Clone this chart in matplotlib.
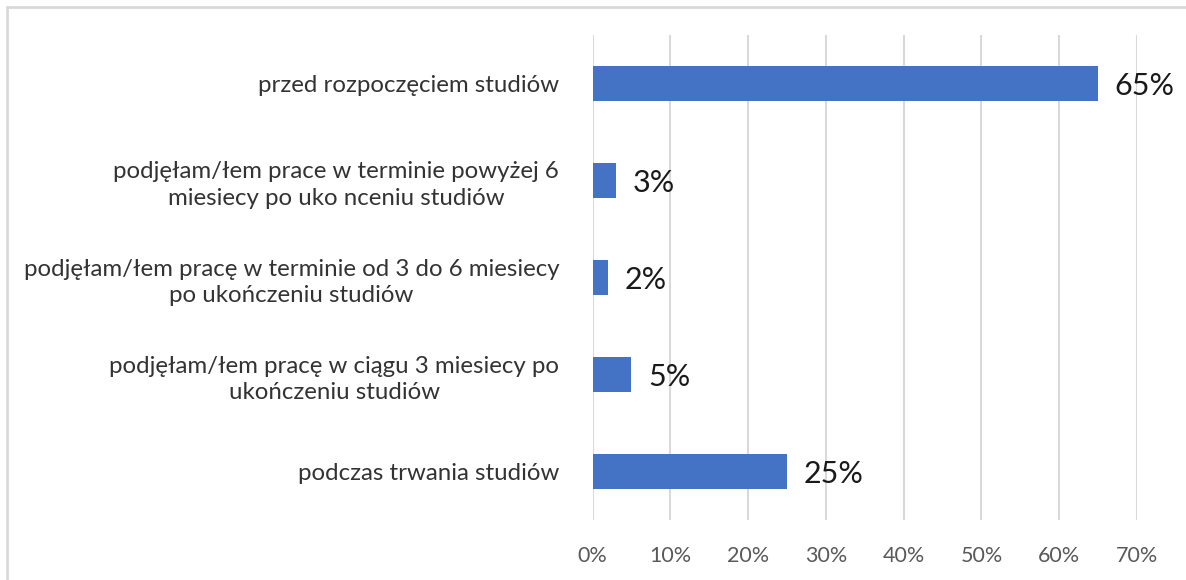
import matplotlib.pyplot as plt
from matplotlib.patches import Rectangle

# data, from the bottom of the chart to the top
categories = [
    'podczas trwania studiów',
    'podjęłam/łem pracę w ciągu 3 miesiecy po\nukończeniu studiów',
    'podjęłam/łem pracę w terminie od 3 do 6 miesiecy\npo ukończeniu studiów',
    'podjęłam/łem prace w terminie powyżej 6\nmiesiecy po uko nceniu studiów',
    'przed rozpoczęciem studiów',
]
values = [25, 5, 2, 3, 65]
xticks = [0, 10, 20, 30, 40, 50, 60, 70]

plt.rcParams['font.family'] = ['Lato', 'DejaVu Sans']

fig = plt.figure(figsize=(11.86, 5.8), dpi=100)
ax = fig.add_axes([0.4996, 0.1034, 0.4591, 0.8363])

ax.barh(range(len(values)), values, height=0.36, color='#4472C4', zorder=3)

for i, v in enumerate(values):
    ax.annotate(f'{v}%', xy=(v, i), xytext=(12, -2), textcoords='offset points',
                va='center', ha='left', fontsize=22, color='#1a1a1a')

ax.set_xlim(0, 70)
ax.set_ylim(-0.5, len(values) - 0.5)
ax.set_xticks(xticks)
ax.set_xticklabels([f'{t}%' for t in xticks], color='#595959', fontsize=15.5)
ax.set_yticks(range(len(categories)))
ax.set_yticklabels(categories, fontsize=17.3, color='#333333')
for lab in ax.get_yticklabels():
    lab.set_multialignment('center')
    lab.set_linespacing(1.35)

ax.tick_params(axis='x', length=0, pad=19)
ax.tick_params(axis='y', length=0, pad=24)
ax.grid(axis='x', color='#d9d9d9', linewidth=1.5, zorder=0)
for s in ax.spines.values():
    s.set_visible(False)

# light frame around the chart area (right and bottom cut off)
fig.patches.append(Rectangle((7 / 1186, -0.05), 1.2, 1 - 7 / 580 + 0.05,
                             transform=fig.transFigure, fill=False,
                             edgecolor='#d9d9d9', linewidth=2))

fig.savefig('out.png', dpi=100)
